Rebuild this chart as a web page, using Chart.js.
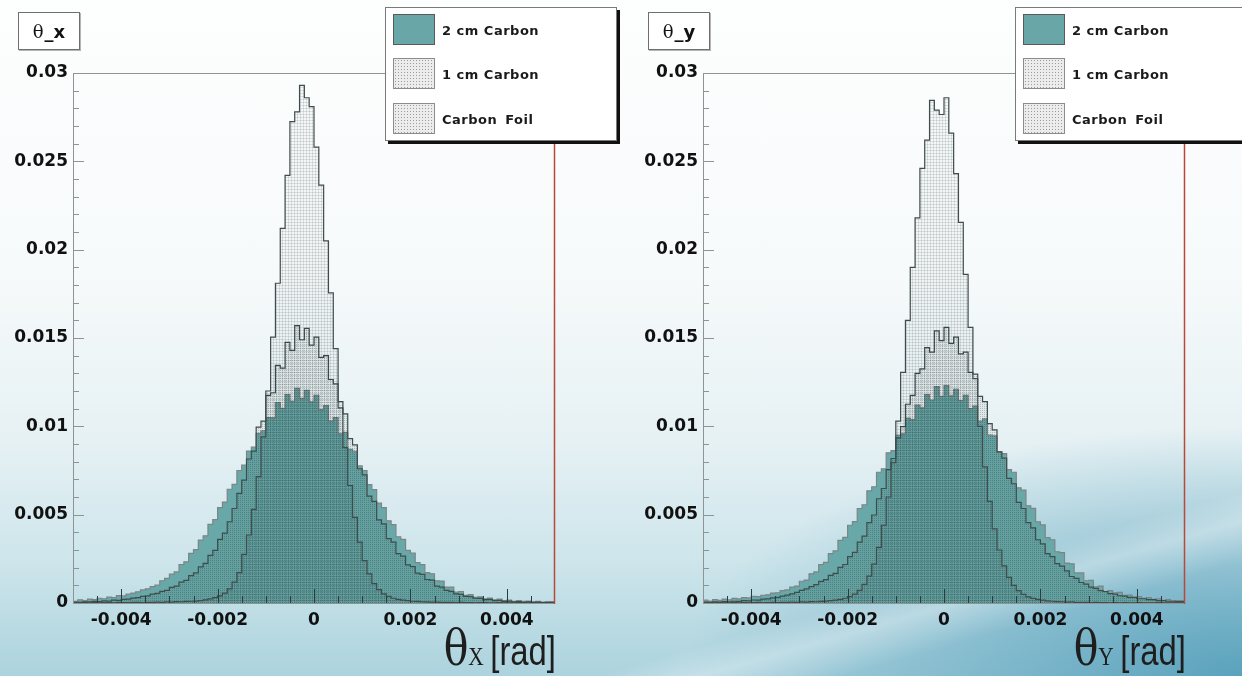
<!DOCTYPE html>
<html>
<head>
<meta charset="utf-8">
<title>theta_x / theta_y</title>
<script src="https://cdn.jsdelivr.net/npm/chart.js@4.4.1/dist/chart.umd.min.js"></script>
<style>
    html, body { margin: 0; padding: 0; }
    body {
        width: 1242px; height: 676px; overflow: hidden; position: relative;
        font-family: 'DejaVu Sans', sans-serif;
        background:
            linear-gradient(164deg, rgba(255,255,255,0) 82%, rgba(255,255,255,0.32) 85%, rgba(255,255,255,0) 89%),
            radial-gradient(ellipse 560px 250px at 100% 100%, rgba(70,150,180,0.8), rgba(70,150,180,0) 100%),
            linear-gradient(to bottom, #fdfefe 0%, #f7fafb 40%, #e6f1f4 65%, #cde5eb 83%, #acd3de 100%);
    }
    .panel { position: absolute; top: 0; width: 620px; height: 676px; }
    .panel canvas { position: absolute; left: 0; top: 0; }

    .hbox {
        position: absolute; left: 18px; top: 12px; width: 60px; height: 36px;
        background: #fff; border: 1px solid #6f6f6f; box-shadow: 1px 1px 0 #b4b4b4;
        display: flex; align-items: center; justify-content: center;
        font-size: 18px; color: #111; white-space: nowrap;
    }
    .hbox .th { font-family: 'DejaVu Serif', serif; font-weight: normal; margin-right: 1px; }
    .hbox b { font-family: 'DejaVu Sans', sans-serif; }

    .legend {
        position: absolute; left: 385px; top: 7px; width: 230px; height: 132px;
        background: #fff; border: 1px solid #7a7a7a; box-shadow: 3px 3px 0 #111;
    }
    .entry { position: absolute; left: 7px; width: 215px; height: 31px; }
    .sw { position: absolute; left: 0; top: 0; width: 42px; height: 31px; box-sizing: border-box; border: 1px solid #5a5a5a; }
    .sw.teal { background: #68a6a7; }
    .sw.dots {
        background-color: #ececec; border-color: #8c8c8c;
        background-image: radial-gradient(circle, #9c9c9c 0.8px, transparent 0.9px);
        background-size: 3px 3px;
    }
    .entry span {
        position: absolute; left: 49px; top: 50%; transform: translateY(-50%);
        white-space: nowrap; font: bold 13px 'DejaVu Sans', sans-serif;
        letter-spacing: 0.5px; color: #1a1a1a;
    }
    .entry span.foil { word-spacing: 3px; }

    .axtitle {
        position: absolute; right: 64px; bottom: 3px;
        font: 40px 'Liberation Sans', Arial, sans-serif; color: #1e1e1e;
        line-height: 1; white-space: nowrap;
        transform: scaleX(0.82); transform-origin: right bottom;
    }
    .axtitle .th { font-family: 'DejaVu Serif', serif; font-size: 50px; }
    .axtitle .sub { font-family: 'Liberation Serif', serif; font-size: 26px; margin-right: 8px; }
</style>
</head>
<body>

<div class="panel" id="panelX">
    <canvas id="chartX" width="620" height="676"></canvas>
    <div class="hbox"><span class="th">θ</span><b>_x</b></div>
    <div class="legend">
        <div class="entry" style="top:6px"><div class="sw teal"></div><span>2 cm Carbon</span></div>
        <div class="entry" style="top:50px"><div class="sw dots"></div><span>1 cm Carbon</span></div>
        <div class="entry" style="top:95px"><div class="sw dots"></div><span class="foil">Carbon Foil</span></div>
    </div>
    <div class="axtitle"><span class="th">θ</span><span class="sub">X</span>[rad]</div>
</div>

<div class="panel" id="panelY" style="left:630px">
    <canvas id="chartY" width="620" height="676"></canvas>
    <div class="hbox"><span class="th">θ</span><b>_y</b></div>
    <div class="legend">
        <div class="entry" style="top:6px"><div class="sw teal"></div><span>2 cm Carbon</span></div>
        <div class="entry" style="top:50px"><div class="sw dots"></div><span>1 cm Carbon</span></div>
        <div class="entry" style="top:95px"><div class="sw dots"></div><span class="foil">Carbon Foil</span></div>
    </div>
    <div class="axtitle"><span class="th">θ</span><span class="sub">Y</span>[rad]</div>
</div>

<script>
// histogram binning: 100 bins from -0.005 to 0.005 rad
const binLo = -0.005;
const binWidth = 0.0001;

const xTickValues = [-0.004, -0.002, 0, 0.002, 0.004];
const xTickLabels = ['-0.004', '-0.002', '0', '0.002', '0.004'];
const yTickValues = [0, 0.005, 0.01, 0.015, 0.02, 0.025, 0.03];
const yTickLabels = ['0', '0.005', '0.01', '0.015', '0.02', '0.025', '0.03'];

const seriesNames = ['2 cm Carbon', '1 cm Carbon', 'Carbon Foil'];

// theta_x
const carbon2X = [
    0.00015, 0.00010, 0.00018, 0.00014, 0.00022, 0.00019, 0.00027, 0.00024, 0.00033, 0.00031,
    0.00042, 0.00040, 0.00050, 0.00056, 0.00063, 0.00074, 0.00080, 0.00093, 0.00101, 0.00126,
    0.00139, 0.00164, 0.00176, 0.00218, 0.00233, 0.00281, 0.00302, 0.00356, 0.00380, 0.00445,
    0.00472, 0.00540, 0.00571, 0.00644, 0.00672, 0.00750, 0.00781, 0.00860, 0.00882, 0.00960,
    0.00975, 0.01050, 0.01048, 0.01135, 0.01102, 0.01180, 0.01141, 0.01215, 0.01158, 0.01204,
    0.01139, 0.01176, 0.01095, 0.01118, 0.01030, 0.01049, 0.00958, 0.00966, 0.00870, 0.00859,
    0.00776, 0.00750, 0.00670, 0.00642, 0.00565, 0.00540, 0.00465, 0.00444, 0.00375, 0.00360,
    0.00298, 0.00282, 0.00229, 0.00217, 0.00172, 0.00165, 0.00126, 0.00124, 0.00090, 0.00090,
    0.00062, 0.00065, 0.00043, 0.00047, 0.00032, 0.00035, 0.00024, 0.00028, 0.00018, 0.00022,
    0.00014, 0.00017, 0.00010, 0.00014, 0.00009, 0.00011, 0.00006, 0.00009, 0.00005, 0.00007
];
const carbon1X = [
    0.00003, 0.00005, 0.00004, 0.00007, 0.00006, 0.00009, 0.00008, 0.00012, 0.00011, 0.00016,
    0.00015, 0.00021, 0.00022, 0.00028, 0.00030, 0.00037, 0.00040, 0.00050, 0.00054, 0.00066,
    0.00072, 0.00088, 0.00096, 0.00118, 0.00128, 0.00155, 0.00170, 0.00205, 0.00224, 0.00270,
    0.00298, 0.00360, 0.00395, 0.00460, 0.00535, 0.00620, 0.00695, 0.00815, 0.00860, 0.00995,
    0.01030, 0.01175, 0.01190, 0.01345, 0.01330, 0.01475, 0.01430, 0.01570, 0.01490, 0.01555,
    0.01460, 0.01505, 0.01390, 0.01400, 0.01265, 0.01240, 0.01105, 0.01070, 0.00930, 0.00895,
    0.00760, 0.00725, 0.00605, 0.00575, 0.00470, 0.00448, 0.00364, 0.00345, 0.00279, 0.00265,
    0.00216, 0.00206, 0.00169, 0.00162, 0.00133, 0.00129, 0.00096, 0.00090, 0.00072, 0.00066,
    0.00052, 0.00049, 0.00038, 0.00036, 0.00027, 0.00026, 0.00019, 0.00020, 0.00013, 0.00015,
    0.00009, 0.00011, 0.00006, 0.00008, 0.00004, 0.00006, 0.00003, 0.00005, 0.00002, 0.00004
];
const foilX = [
    0.00002, 0.00001, 0.00001, 0.00002, 0.00001, 0.00002, 0.00001, 0.00002, 0.00002, 0.00001,
    0.00003, 0.00002, 0.00002, 0.00003, 0.00003, 0.00002, 0.00004, 0.00003, 0.00005, 0.00004,
    0.00006, 0.00005, 0.00008, 0.00007, 0.00009, 0.00010, 0.00011, 0.00014, 0.00018, 0.00023,
    0.00030, 0.00040, 0.00056, 0.00080, 0.00118, 0.00172, 0.00275, 0.00385, 0.00530, 0.00715,
    0.00940, 0.01200, 0.01505, 0.01810, 0.02120, 0.02420, 0.02725, 0.02780, 0.02930, 0.02860,
    0.02810, 0.02580, 0.02365, 0.02050, 0.01755, 0.01440, 0.01140, 0.00880, 0.00665, 0.00485,
    0.00345, 0.00240, 0.00165, 0.00110, 0.00076, 0.00052, 0.00037, 0.00027, 0.00020, 0.00016,
    0.00013, 0.00010, 0.00009, 0.00007, 0.00006, 0.00005, 0.00005, 0.00004, 0.00003, 0.00003,
    0.00002, 0.00003, 0.00002, 0.00002, 0.00001, 0.00002, 0.00002, 0.00001, 0.00001, 0.00002,
    0.00001, 0.00001, 0.00001, 0.00002, 0.00001, 0.00001, 0.00001, 0.00001, 0.00001, 0.00001
];

// theta_y
const carbon2Y = [
    0.00012, 0.00016, 0.00011, 0.00019, 0.00015, 0.00022, 0.00018, 0.00026, 0.00023, 0.00030,
    0.00029, 0.00038, 0.00036, 0.00044, 0.00046, 0.00056, 0.00058, 0.00070, 0.00074, 0.00090,
    0.00096, 0.00123, 0.00130, 0.00165, 0.00176, 0.00218, 0.00230, 0.00280, 0.00295, 0.00354,
    0.00372, 0.00440, 0.00461, 0.00535, 0.00556, 0.00635, 0.00658, 0.00740, 0.00760, 0.00850,
    0.00862, 0.00950, 0.00958, 0.01045, 0.01038, 0.01120, 0.01105, 0.01180, 0.01149, 0.01225,
    0.01170, 0.01230, 0.01172, 0.01210, 0.01145, 0.01175, 0.01100, 0.01115, 0.01030, 0.01042,
    0.00950, 0.00946, 0.00855, 0.00845, 0.00755, 0.00740, 0.00652, 0.00639, 0.00550, 0.00536,
    0.00460, 0.00442, 0.00370, 0.00358, 0.00290, 0.00285, 0.00226, 0.00222, 0.00170, 0.00170,
    0.00126, 0.00128, 0.00091, 0.00095, 0.00065, 0.00070, 0.00058, 0.00060, 0.00044, 0.00045,
    0.00035, 0.00036, 0.00026, 0.00030, 0.00020, 0.00024, 0.00015, 0.00019, 0.00012, 0.00014
];
const carbon1Y = [
    0.00003, 0.00005, 0.00004, 0.00006, 0.00005, 0.00008, 0.00007, 0.00010, 0.00009, 0.00013,
    0.00012, 0.00017, 0.00016, 0.00022, 0.00023, 0.00029, 0.00032, 0.00039, 0.00045, 0.00052,
    0.00060, 0.00071, 0.00080, 0.00093, 0.00104, 0.00122, 0.00132, 0.00156, 0.00168, 0.00202,
    0.00218, 0.00263, 0.00286, 0.00345, 0.00379, 0.00455, 0.00498, 0.00590, 0.00648, 0.00755,
    0.00818, 0.00935, 0.00998, 0.01125, 0.01175, 0.01300, 0.01325, 0.01445, 0.01420, 0.01540,
    0.01485, 0.01560, 0.01470, 0.01505, 0.01410, 0.01420, 0.01305, 0.01295, 0.01170, 0.01140,
    0.01015, 0.00980, 0.00855, 0.00820, 0.00705, 0.00675, 0.00570, 0.00535, 0.00455, 0.00425,
    0.00358, 0.00335, 0.00280, 0.00262, 0.00223, 0.00209, 0.00182, 0.00150, 0.00139, 0.00116,
    0.00107, 0.00090, 0.00083, 0.00070, 0.00065, 0.00053, 0.00050, 0.00041, 0.00039, 0.00032,
    0.00031, 0.00024, 0.00024, 0.00019, 0.00019, 0.00014, 0.00014, 0.00010, 0.00010, 0.00008
];
const foilY = [
    0.00001, 0.00002, 0.00001, 0.00001, 0.00002, 0.00001, 0.00001, 0.00002, 0.00001, 0.00002,
    0.00001, 0.00002, 0.00003, 0.00001, 0.00002, 0.00003, 0.00002, 0.00004, 0.00003, 0.00005,
    0.00004, 0.00006, 0.00005, 0.00008, 0.00007, 0.00009, 0.00011, 0.00013, 0.00016, 0.00021,
    0.00027, 0.00036, 0.00050, 0.00072, 0.00105, 0.00152, 0.00220, 0.00315, 0.00440, 0.00600,
    0.00795, 0.01030, 0.01305, 0.01600, 0.01900, 0.02180, 0.02460, 0.02620, 0.02845, 0.02790,
    0.02765, 0.02860, 0.02660, 0.02430, 0.02155, 0.01860, 0.01560, 0.01270, 0.01000, 0.00770,
    0.00575, 0.00420, 0.00300, 0.00210, 0.00145, 0.00100, 0.00070, 0.00049, 0.00035, 0.00026,
    0.00020, 0.00016, 0.00012, 0.00010, 0.00008, 0.00007, 0.00005, 0.00006, 0.00004, 0.00003,
    0.00004, 0.00002, 0.00003, 0.00002, 0.00002, 0.00001, 0.00002, 0.00001, 0.00002, 0.00001,
    0.00001, 0.00002, 0.00001, 0.00001, 0.00001, 0.00002, 0.00001, 0.00001, 0.00001, 0.00001
];

// step outline: one point per lower bin edge, plus the upper edge of the last bin
function toSteps(values) {
    const pts = values.map((v, i) => ({ x: binLo + i * binWidth, y: v }));
    pts.push({ x: binLo + values.length * binWidth, y: values[values.length - 1] });
    return pts;
}

function dotPattern(ctx, size, ink, wash, grid) {
    const tile = document.createElement('canvas');
    tile.width = size;
    tile.height = size;
    const t = tile.getContext('2d');
    t.fillStyle = wash;
    t.fillRect(0, 0, size, size);
    t.fillStyle = ink;
    if (grid) {
        t.fillRect(0, 0, size, 1);
        t.fillRect(0, 0, 1, size);
    } else {
        t.fillRect(0, 0, 1, 1);
    }
    return ctx.createPattern(tile, 'repeat');
}

// ROOT style frame: ticks drawn inward, red right edge
const rootFrame = {
    id: 'rootFrame',
    afterDatasetsDraw(chart) {
        const { ctx, chartArea: a, scales: { x, y } } = chart;
        ctx.save();
        ctx.lineWidth = 1;

        ctx.strokeStyle = '#8e9494';
        ctx.beginPath();
        for (let k = 0; k <= 30; k++) {
            const py = Math.round(y.getPixelForValue(k * 0.001)) + 0.5;
            const len = k % 5 === 0 ? 11 : 6;
            ctx.moveTo(a.left, py);
            ctx.lineTo(a.left + len, py);
        }
        ctx.stroke();

        ctx.strokeStyle = '#2c3b3b';
        ctx.beginPath();
        for (let k = -9; k <= 9; k++) {
            const px = Math.round(x.getPixelForValue(k * 0.0005)) + 0.5;
            const len = k % 4 === 0 ? 14 : 7;
            ctx.moveTo(px, a.bottom);
            ctx.lineTo(px, a.bottom - len);
        }
        ctx.stroke();

        ctx.strokeStyle = '#8e9494';
        ctx.beginPath();
        ctx.moveTo(a.left + 0.5, a.bottom);
        ctx.lineTo(a.left + 0.5, a.top + 0.5);
        ctx.lineTo(a.right, a.top + 0.5);
        ctx.moveTo(a.left, a.bottom + 0.5);
        ctx.lineTo(a.right, a.bottom + 0.5);
        ctx.stroke();

        ctx.strokeStyle = '#b8493a';
        ctx.lineWidth = 1.5;
        ctx.beginPath();
        ctx.moveTo(a.right - 0.5, a.top);
        ctx.lineTo(a.right - 0.5, a.bottom + 1);
        ctx.stroke();
        ctx.restore();
    }
};

const tickFont = { family: "'DejaVu Sans', sans-serif", weight: 'bold', size: 17 };

function drawPanel(canvasId, wide, mid, narrow) {
    const canvas = document.getElementById(canvasId);
    const ctx = canvas.getContext('2d');

    const hist = (label, values, order, fill, border) => ({
        label: label,
        data: toSteps(values),
        order: order,
        stepped: 'after',
        fill: 'origin',
        backgroundColor: fill,
        borderColor: border,
        borderWidth: 1.2,
        pointRadius: 0,
        tension: 0
    });

    return new Chart(ctx, {
        type: 'line',
        data: {
            datasets: [
                hist(seriesNames[0], wide, 3, '#69a8a8', '#7c8585'),
                hist(seriesNames[1], mid, 2, dotPattern(ctx, 2, 'rgba(0,0,0,0.20)', 'rgba(0,0,0,0.045)', false), '#3f4c4c'),
                hist(seriesNames[2], narrow, 1, dotPattern(ctx, 3, 'rgba(20,40,40,0.12)', 'rgba(0,0,0,0.02)', true), '#404c4c')
            ]
        },
        options: {
            responsive: false,
            animation: false,
            events: [],
            layout: { padding: { left: 0, right: 65, top: 73, bottom: 33 } },
            plugins: {
                legend: { display: false },
                tooltip: { enabled: false }
            },
            scales: {
                x: {
                    type: 'linear',
                    min: -0.005,
                    max: 0.005,
                    grid: { display: false, drawTicks: false },
                    border: { display: false },
                    afterBuildTicks: (s) => { s.ticks = xTickValues.map(v => ({ value: v })); },
                    afterFit: (s) => { s.height = 40; },
                    ticks: {
                        autoSkip: false,
                        maxRotation: 0,
                        padding: 7,
                        color: '#111',
                        font: tickFont,
                        callback: (v, i) => xTickLabels[i]
                    }
                },
                y: {
                    type: 'linear',
                    min: 0,
                    max: 0.03,
                    grid: { display: false, drawTicks: false },
                    border: { display: false },
                    afterBuildTicks: (s) => { s.ticks = yTickValues.map(v => ({ value: v })); },
                    afterFit: (s) => { s.width = 73; },
                    ticks: {
                        autoSkip: false,
                        padding: 5,
                        color: '#111',
                        font: tickFont,
                        callback: (v, i) => yTickLabels[i]
                    }
                }
            }
        },
        plugins: [rootFrame]
    });
}

drawPanel('chartX', carbon2X, carbon1X, foilX);
drawPanel('chartY', carbon2Y, carbon1Y, foilY);
</script>
</body>
</html>
